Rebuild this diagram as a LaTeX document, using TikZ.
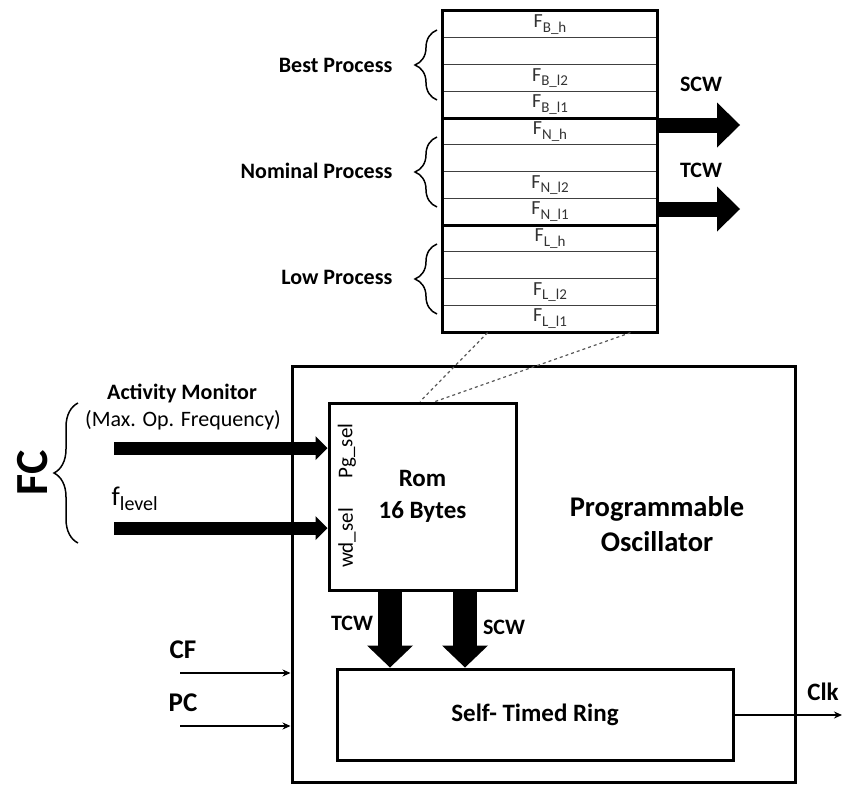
\documentclass[tikz,border=0pt]{standalone}
\usepackage{fontspec}
\setmainfont{Carlito}
\usetikzlibrary{arrows.meta, decorations.pathreplacing, calc, positioning}
\newcommand{\fsub}[1]{F\raisebox{-4.5pt}{\fontsize{15}{16}\selectfont #1}}
\tikzset{
  % pixel-like units, y grows downwards
  every picture/.append style = {line width=0.7pt},
  boxline/.style  = {draw, line width=3pt, inner sep=0pt},
  romrow/.style   = {draw=black!75, line width=1.3pt, minimum width=214pt,
                     minimum height=26.75pt, inner sep=0pt,
                     font=\fontsize{20}{22}\selectfont, text=black!80},
  fatright/.style = {line width=15pt, -{Triangle[width=45pt, length=23pt, line width'=0pt]}},
  fatdown/.style  = {line width=24pt, -{Triangle[width=46pt, length=22pt, line width'=0pt]}},
  fatin/.style    = {line width=13pt, -{Triangle[width=24pt, length=12pt, line width'=0pt]}},
  thinin/.style   = {line width=1.8pt, -{Stealth[length=8pt, width=7pt]}},
  bracel/.style   = {decorate, decoration={brace, amplitude=#1}, line width=1.5pt},
  blbl/.style     = {font=\bfseries\fontsize{22}{26}\selectfont},
  lbl/.style      = {font=\fontsize{22}{26}\selectfont},
}
\begin{document}
\begin{tikzpicture}[x=1pt, y=-1pt]
\useasboundingbox (0,0) rectangle (842,784);

% ---- rom contents ---------------------------------------------------------
\foreach \i/\t in {1/{\fsub{B\_h}}, 2/{}, 3/{\fsub{B\_l2}}, 4/{\fsub{B\_l1}},
                   5/{\fsub{N\_h}}, 6/{}, 7/{\fsub{N\_l2}}, 8/{\fsub{N\_l1}},
                   9/{\fsub{L\_h}}, 10/{}, 11/{\fsub{L\_l2}}, 12/{\fsub{L\_l1}}}
  \node[romrow] (r\i) at (550, {11+(\i-0.5)*26.75}) {\t};
\draw[line width=3pt] (r1.north west) rectangle (r12.south east);
\draw[line width=3pt] (r4.south west) -- (r4.south east);
\draw[line width=3pt] (r8.south west) -- (r8.south east);

% ---- process groups -------------------------------------------------------
\draw[bracel=22pt] (437,100) -- (437,30);
\draw[bracel=22pt] (437,207) -- (437,137);
\draw[bracel=22pt] (437,314) -- (437,244);
\node[blbl, anchor=east] (best) at (396,65) {Best Process};
\node[blbl, anchor=east] (nominal) at (396,171) {Nominal Process};
\node[blbl, anchor=east] (low) at (396,277) {Low Process};

% ---- outputs of the table -------------------------------------------------
\coordinate (scwend) at (740,125);
\coordinate (tcwend) at (740,209);
\draw[fatright] (scwend -| r5.east) -- (scwend);
\draw[fatright] (tcwend -| r8.east) -- (tcwend);
\node[blbl] (scwtop) at (701,84) {SCW};
\node[blbl] (tcwtop) at (701,170) {TCW};

% ---- oscillator -----------------------------------------------------------
\node[boxline, minimum width=503pt, minimum height=416pt] (osc) at (543.5,574) {};
\node[boxline, minimum width=187pt, minimum height=187pt,
      font=\bfseries\fontsize{25}{32}\selectfont, align=center] (rom) at (422.5,496.5) {Rom\\16 Bytes};
\node[boxline, minimum width=396pt, minimum height=91pt,
      font=\bfseries\fontsize{25}{28}\selectfont] (ring) at (535,714.5) {Self- Timed Ring};
\node[font=\bfseries\fontsize{28.5}{35}\selectfont, align=center] (progosc) at (657,524) {Programmable\\Oscillator};
\node[font=\fontsize{21}{22}\selectfont, rotate=90] (pgsel) at (347,451) {Pg\_sel};
\node[font=\fontsize{21}{22}\selectfont, rotate=90] (wdsel) at (347,538) {wd\_sel};

% zoom lines from the table to the rom
\draw[dashed, black!65, line width=1.2pt]
  ($(r12.south west)!0.21!(r12.south east)$) -- ($(rom.north west)!0.487!(rom.north east)$);
\draw[dashed, black!65, line width=1.2pt]
  ($(r12.south west)!0.874!(r12.south east)$) -- ($(rom.north west)!0.567!(rom.north east)$);

% ---- rom inputs -----------------------------------------------------------
\coordinate (amin) at (114,448);
\coordinate (flin) at (114,528);
\draw[fatin] (amin) -- (amin -| rom.west);
\draw[fatin] (flin) -- (flin -| rom.west);
\node[blbl] (actmon) at (182,393) {Activity Monitor};
\node[lbl] (maxop) at (183,420) {(Max. Op. Frequency)};
\node[font=\fontsize{27}{30}\selectfont, anchor=west] (flevel) at (108,499) {f\raisebox{-5pt}{\fontsize{20}{22}\selectfont level}};
\draw[bracel=24pt] (78,543) -- (78,403);
\node[font=\bfseries\fontsize{46}{48}\selectfont, rotate=90] (fc) at (33,473) {FC};

% ---- rom to ring ----------------------------------------------------------
\coordinate (tcwx) at (390,0);
\coordinate (scwx) at (465,0);
\draw[fatdown] (rom.south -| tcwx) -- (ring.north -| tcwx);
\draw[fatdown] (rom.south -| scwx) -- (ring.north -| scwx);
\node[blbl] (tcwlow) at (352,623) {TCW};
\node[blbl] (scwlow) at (504,627) {SCW};

% ---- control inputs and clock ---------------------------------------------
\coordinate (cfin) at (180,673);
\coordinate (pcin) at (180,726);
\draw[thinin] (cfin) -- (cfin -| osc.west);
\draw[thinin] (pcin) -- (pcin -| osc.west);
\node[font=\bfseries\fontsize{27}{30}\selectfont] (cf) at (183,650) {CF};
\node[font=\bfseries\fontsize{27}{30}\selectfont] (pc) at (183,703) {PC};
\coordinate (clkout) at (842,715);
\draw[thinin] (ring.east |- clkout) -- (clkout);
\node[font=\bfseries\fontsize{25}{28}\selectfont] (clk) at (823,692) {Clk};
\end{tikzpicture}
\end{document}
